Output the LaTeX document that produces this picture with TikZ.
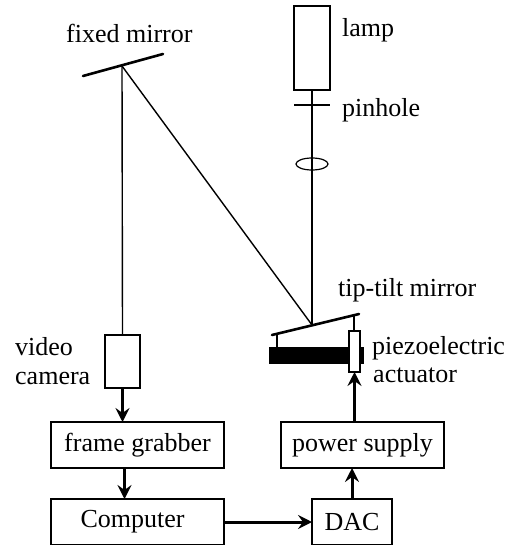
\documentclass[tikz,border=0pt]{standalone}
\usepackage{fontspec}
\setmainfont{Liberation Serif}
\usepackage{tikz}
\usetikzlibrary{shapes,arrows.meta,positioning}

\begin{document}
\begin{tikzpicture}[
    x=1pt, y=-1pt,
    font=\fontsize{26}{26}\selectfont,
    box/.style={rectangle, draw, line width=1.4pt, inner sep=0pt, outer sep=0pt, minimum height=46pt, align=center},
    tag/.style={inner sep=0pt, anchor=west},
    ray/.style={line width=1.4pt},
    mirror/.style={line width=2.6pt, line cap=round},
    arrow/.style={-{Stealth[length=14pt, width=14pt, inset=5pt]}, line width=3pt}
]
    \useasboundingbox (0,0) rectangle (505,545);

    % lower blocks
    \node[box, minimum width=173pt] (grabber) at (137.5,445) {frame grabber};
    \node[box, minimum width=173pt, below=31pt of grabber] (computer) {Computer\hspace{10pt}};
    \node[box, minimum width=163pt] (supply) at (362.5,445) {power supply};
    \node[box, minimum width=80pt] (dac) at (352,522) {DAC};
    \node[box, minimum width=35pt, minimum height=53pt] (camera) at (122.5,361.5) {};
    \node[box, minimum width=36pt, minimum height=84pt] (lamp) at (312,48) {};

    % actuator
    \node[rectangle, fill=black, minimum width=95pt, minimum height=17pt, inner sep=0pt] (bar) at (316.5,355.5) {};
    \node[box, fill=white, minimum width=11pt, minimum height=41pt] (piezo) at (354.5,351.5) {};

    % mirrors and rays
    \coordinate (fixedL) at (83,76);
    \coordinate (fixedR) at (163,54);
    \coordinate (fixedhit) at (122,66);
    \coordinate (tiltL) at (272,335);
    \coordinate (tiltR) at (359,314);
    \coordinate (tilthit) at (312,325);
    \coordinate (postL) at (277,334);
    \coordinate (postR) at (354,315);
    \coordinate (pinL) at (294,105);
    \coordinate (pinR) at (330,105);
    \node[ellipse, draw, line width=1.2pt, inner sep=0pt, minimum width=32pt, minimum height=12pt] (lens) at (312,164) {};

    \draw[mirror] (fixedL) -- (fixedR);
    \draw[mirror] (tiltL) -- (tiltR);
    \draw[ray] (pinL) -- (pinR);
    \draw[ray] (lamp.south) -- (tilthit);
    \draw[ray] (fixedhit) -- (tilthit);
    \draw[ray] (fixedhit) -- (camera.north);
    \draw[ray] (postL) -- (postL |- bar.north);
    \draw[ray] (postR) -- (postR |- piezo.north);

    \draw[arrow] (camera.south) -- (camera.south |- grabber.north);
    \draw[arrow] ([xshift=-13pt]grabber.south) -- ([xshift=-13pt]computer.north);
    \draw[arrow] (computer.east) -- (dac.west);
    \draw[arrow] (dac.north) -- (dac.north |- supply.south);
    \draw[arrow] (piezo.south |- supply.north) -- (piezo.south);

    % labels
    \node[tag] (fixedlabel) at (66,33) {fixed mirror};
    \node[tag] (lamplabel) at (342,30) {lamp};
    \node[tag] (pinlabel) at (342,110) {pinhole};
    \node[tag] (tiltlabel) at (338,290) {tip-tilt mirror};
    \node[tag] (piezolabel) at (372,348) {piezoelectric};
    \node[tag] (actlabel) at (373,375) {actuator};
    \node[tag] (videolabel) at (15,347) {video};
    \node[tag] (cameralabel) at (15,378) {camera};
\end{tikzpicture}
\end{document}
